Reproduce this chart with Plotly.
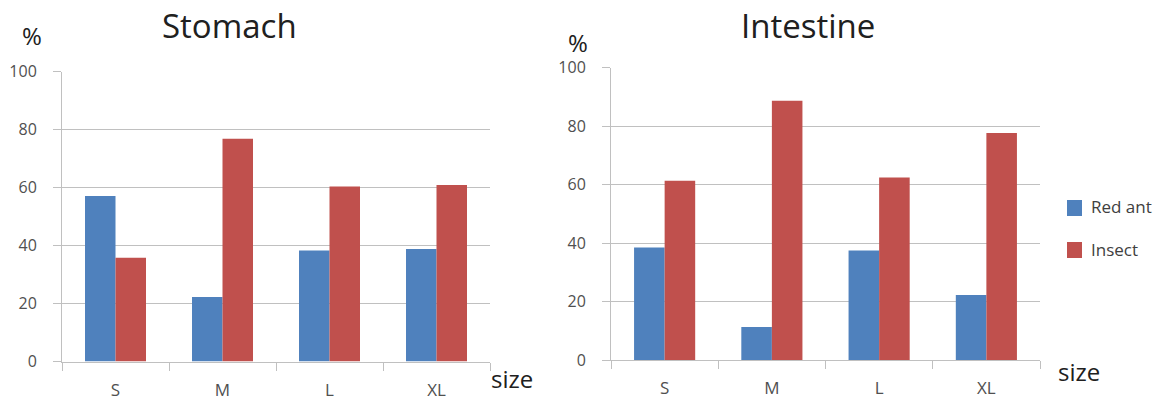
import plotly.graph_objects as go

sizes = ["S", "M", "L", "XL"]
stomach_red_ant = [57.1, 22.3, 38.3, 38.8]
stomach_insect = [35.8, 76.9, 60.4, 60.9]
intestine_red_ant = [38.5, 11.3, 37.4, 22.2]
intestine_insect = [61.3, 88.6, 62.4, 77.6]
y_ticks = [0, 20, 40, 60, 80, 100]
series_names = ["Red ant", "Insect"]

BLUE = "#4F81BD"
RED = "#C0504D"
GRID = "#C0C0C0"
TXT = "#505050"
FONT = "Open Sans"

W, H = 1163, 401


def px(x):
    return x / W


def py(y):
    return (H - y) / H


fig = go.Figure()
fig.add_trace(go.Bar(x=sizes, y=stomach_red_ant, name=series_names[0], marker=dict(color=BLUE, line=dict(width=0)),
                     xaxis="x", yaxis="y", showlegend=False))
fig.add_trace(go.Bar(x=sizes, y=stomach_insect, name=series_names[1], marker=dict(color=RED, line=dict(width=0)),
                     xaxis="x", yaxis="y", showlegend=False))
fig.add_trace(go.Bar(x=sizes, y=intestine_red_ant, name=series_names[0], marker=dict(color=BLUE, line=dict(width=0)),
                     xaxis="x2", yaxis="y2", showlegend=False))
fig.add_trace(go.Bar(x=sizes, y=intestine_insect, name=series_names[1], marker=dict(color=RED, line=dict(width=0)),
                     xaxis="x2", yaxis="y2", showlegend=False))


def xax(domain, anchor):
    return dict(domain=domain, anchor=anchor, type="category", range=[-0.5, 3.5],
                showline=True, linecolor=GRID, linewidth=1, showgrid=False,
                ticks="outside", tickson="boundaries", ticklen=8, tickcolor=GRID,
                tickfont=dict(family=FONT, size=17, color=TXT), ticklabelstandoff=13,
                zeroline=False, fixedrange=True, automargin=False)


def yax(domain, anchor):
    return dict(domain=domain, anchor=anchor, range=[0, 100], tickvals=y_ticks,
                showline=True, linecolor=GRID, linewidth=1, showgrid=True, gridcolor=GRID, gridwidth=1,
                ticks="outside", ticklen=8, tickcolor=GRID,
                tickfont=dict(family=FONT, size=16, color=TXT), ticklabelstandoff=13,
                zeroline=False, fixedrange=True, automargin=False)


fig.update_layout(
    template="none",
    width=W, height=H,
    margin=dict(l=0, r=0, t=0, b=0, pad=0),
    paper_bgcolor="white", plot_bgcolor="white",
    barmode="group", bargap=0.43, bargroupgap=0,
    font=dict(family=FONT, color=TXT),
    xaxis=xax([px(62), px(490)], "y"),
    yaxis=yax([py(361.5), py(71.8)], "x"),
    xaxis2=xax([px(611), px(1040)], "y2"),
    yaxis2=yax([py(360), py(67.5)], "x2"),
    showlegend=False,
    hovermode=False,
)


def ann(text, x, y, size, color="#202020", xanchor="center"):
    fig.add_annotation(text=text, x=px(x), y=py(y), xref="paper", yref="paper",
                       showarrow=False, xanchor=xanchor, yanchor="middle",
                       font=dict(family=FONT, size=size, color=color))


ann("Stomach", 229, 25, 33)
ann("Intestine", 808, 25, 33)
ann("%", 32, 36, 24)
ann("%", 578, 42, 24)
ann("size", 512, 378, 24)
ann("size", 1079, 371, 24)

# legend (swatches + labels)
legend_items = [(series_names[0], BLUE, 208), (series_names[1], RED, 250)]
for name, col, yc in legend_items:
    fig.add_shape(type="rect", xref="paper", yref="paper",
                  x0=px(1067), x1=px(1082), y0=py(yc + 8), y1=py(yc - 8),
                  fillcolor=col, line=dict(width=0))
    ann(name, 1089, yc - 1, 17, color="#404040", xanchor="left")

fig.write_html("out.html", config={"displayModeBar": False, "staticPlot": True},
               post_script="document.body.style.margin='0';")
